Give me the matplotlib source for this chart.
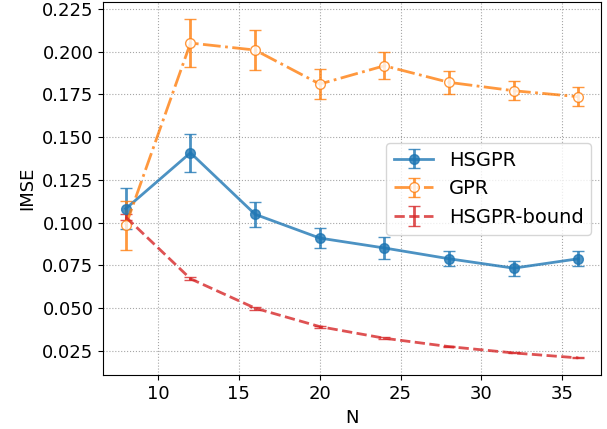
import numpy as np
import matplotlib
matplotlib.use("Agg")
import matplotlib.pyplot as plt

N = [8, 12, 16, 20, 24, 28, 32, 36]

hsgpr = [0.1082, 0.1409, 0.1049, 0.0910, 0.0852, 0.0789, 0.0734, 0.0789]
hsgpr_err = [0.0120, 0.0110, 0.0072, 0.0057, 0.0064, 0.0045, 0.0043, 0.0045]

gpr = [0.0984, 0.2051, 0.2010, 0.1811, 0.1918, 0.1821, 0.1772, 0.1737]
gpr_err = [0.0145, 0.0140, 0.0117, 0.0088, 0.0079, 0.0068, 0.0057, 0.0055]

bound = [0.1033, 0.0672, 0.0500, 0.0392, 0.0324, 0.0275, 0.0238, 0.0209]
bound_err = [0.0020, 0.0010, 0.0008, 0.0006, 0.0005, 0.0004, 0.0003, 0.0003]

fig, ax = plt.subplots(figsize=(6.07, 4.29), dpi=100)

ax.errorbar(N, hsgpr, yerr=hsgpr_err, color='tab:blue', marker='o', markersize=7,
            linestyle='-', linewidth=2, capsize=4, alpha=0.8, label='HSGPR')
ax.errorbar(N, gpr, yerr=gpr_err, color='tab:orange', marker='o', markersize=7,
            markerfacecolor='white', linestyle='-.', linewidth=2, capsize=4,
            alpha=0.8, label='GPR')
ax.errorbar(N, bound, yerr=bound_err, color='tab:red', linestyle='--', linewidth=2,
            capsize=4, alpha=0.8, label='HSGPR-bound')

ax.set_xlabel('N', fontsize=13)
ax.set_ylabel('IMSE', fontsize=13)
ax.tick_params(labelsize=13)
ax.grid(True, linestyle=':', color='gray', alpha=0.7)
ax.legend(loc='center right', fontsize=14)

fig.subplots_adjust(left=0.17, right=0.99, top=0.995, bottom=0.125)
fig.savefig('out.png', dpi=100)
